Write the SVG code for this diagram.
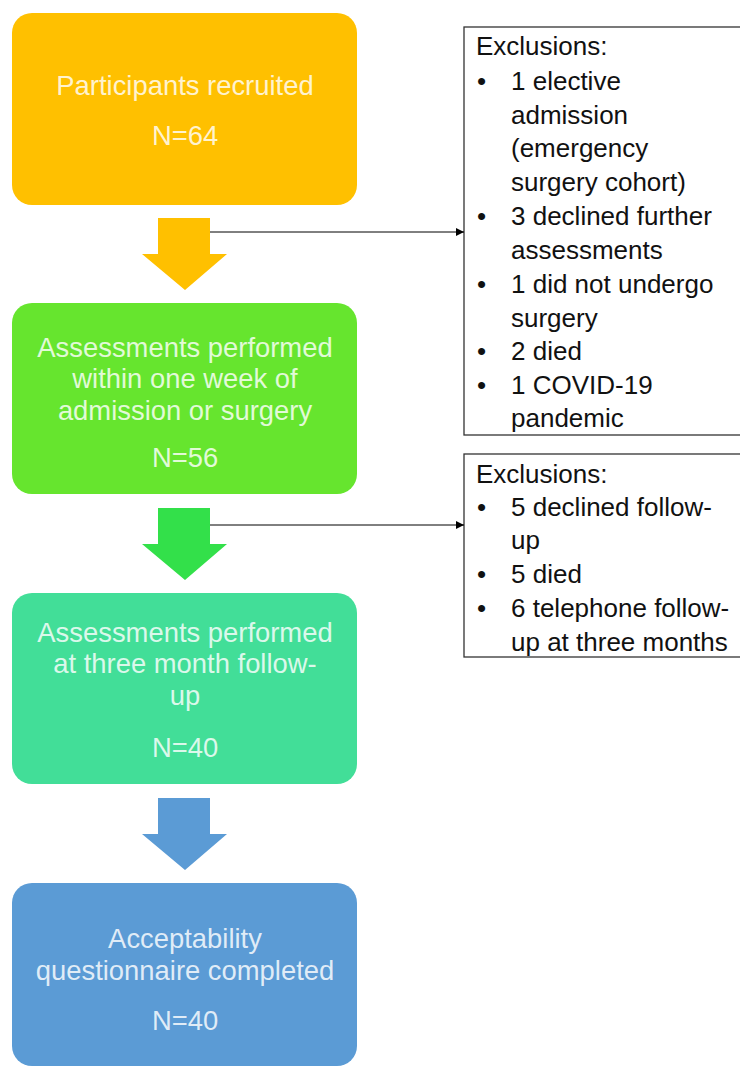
<svg xmlns="http://www.w3.org/2000/svg" width="740" height="1068" viewBox="0 0 740 1068">
<defs>
<marker id="ah" markerWidth="8" markerHeight="8" refX="8" refY="4" orient="auto" markerUnits="userSpaceOnUse">
<path d="M0,0 L8,4 L0,8 Z" fill="#000"/>
</marker>
<style>
.bt{font-family:"Liberation Sans",Arial,sans-serif;font-size:27.4px;fill:#FFFFFF;fill-opacity:0.82;text-anchor:middle;dominant-baseline:central}
.ex{font-family:"Liberation Sans",Arial,sans-serif;font-size:26px;fill:#111;dominant-baseline:central}
.exbox{fill:#fff;stroke:#333;stroke-width:1.3}
.conn{stroke:#000;stroke-width:1;fill:none}
</style>
</defs>
<rect width="740" height="1068" fill="#fff"/>

<g id="node-recruited">
<rect x="12" y="13" width="345" height="192" rx="20" fill="#FFC000"/>
<text class="bt" x="185" y="85">Participants recruited</text>
<text class="bt" x="185" y="135">N=64</text>
</g>

<g id="arrow-1">
<path d="M158,218 H210 V254 H227 L185,290 L142,254 H158 Z" fill="#FFC000"/>
</g>

<g id="node-week">
<rect x="12" y="303" width="345" height="191" rx="20" fill="#66E52E"/>
<text class="bt" x="185" y="347">Assessments performed</text>
<text class="bt" x="185" y="378">within one week of</text>
<text class="bt" x="185" y="410">admission or surgery</text>
<text class="bt" x="185" y="457">N=56</text>
</g>

<g id="arrow-2">
<path d="M158,508 H210 V544 H227 L185,580 L142,544 H158 Z" fill="#33E04A"/>
</g>

<g id="node-threemonth">
<rect x="12" y="593" width="345" height="191" rx="20" fill="#42DE98"/>
<text class="bt" x="185" y="632">Assessments performed</text>
<text class="bt" x="185" y="663">at three month follow-</text>
<text class="bt" x="185" y="695">up</text>
<text class="bt" x="185" y="747">N=40</text>
</g>

<g id="arrow-3">
<path d="M158,798 H210 V834 H227 L185,870 L142,834 H158 Z" fill="#5B9BD5"/>
</g>

<g id="node-acceptability">
<rect x="12" y="883" width="345" height="183" rx="20" fill="#5B9BD5"/>
<text class="bt" x="185" y="938">Acceptability</text>
<text class="bt" x="185" y="970">questionnaire completed</text>
<text class="bt" x="185" y="1020">N=40</text>
</g>

<g id="node-exclusions-1">
<rect class="exbox" x="464" y="27" width="290" height="408"/>
<text class="ex" x="476" y="46">Exclusions:</text>
<text class="ex" x="477" y="81">•</text><text class="ex" x="511" y="81">1 elective</text>
<text class="ex" x="511" y="115">admission</text>
<text class="ex" x="511" y="148">(emergency</text>
<text class="ex" x="511" y="182">surgery cohort)</text>
<text class="ex" x="477" y="216">•</text><text class="ex" x="511" y="216">3 declined further</text>
<text class="ex" x="511" y="250">assessments</text>
<text class="ex" x="477" y="284">•</text><text class="ex" x="511" y="284">1 did not undergo</text>
<text class="ex" x="511" y="318">surgery</text>
<text class="ex" x="477" y="351">•</text><text class="ex" x="511" y="351">2 died</text>
<text class="ex" x="477" y="385">•</text><text class="ex" x="511" y="385">1 COVID-19</text>
<text class="ex" x="511" y="418">pandemic</text>
</g>

<g id="node-exclusions-2">
<rect class="exbox" x="464" y="454" width="290" height="203"/>
<text class="ex" x="476" y="474">Exclusions:</text>
<text class="ex" x="477" y="507">•</text><text class="ex" x="511" y="507">5 declined follow-</text>
<text class="ex" x="511" y="540">up</text>
<text class="ex" x="477" y="574">•</text><text class="ex" x="511" y="574">5 died</text>
<text class="ex" x="477" y="608">•</text><text class="ex" x="511" y="608">6 telephone follow-</text>
<text class="ex" x="511" y="642">up at three months</text>
</g>

<g id="connectors">
<line class="conn" x1="210" y1="232" x2="464" y2="232" marker-end="url(#ah)"/>
<line class="conn" x1="210" y1="525" x2="464" y2="525" marker-end="url(#ah)"/>
</g>
</svg>
